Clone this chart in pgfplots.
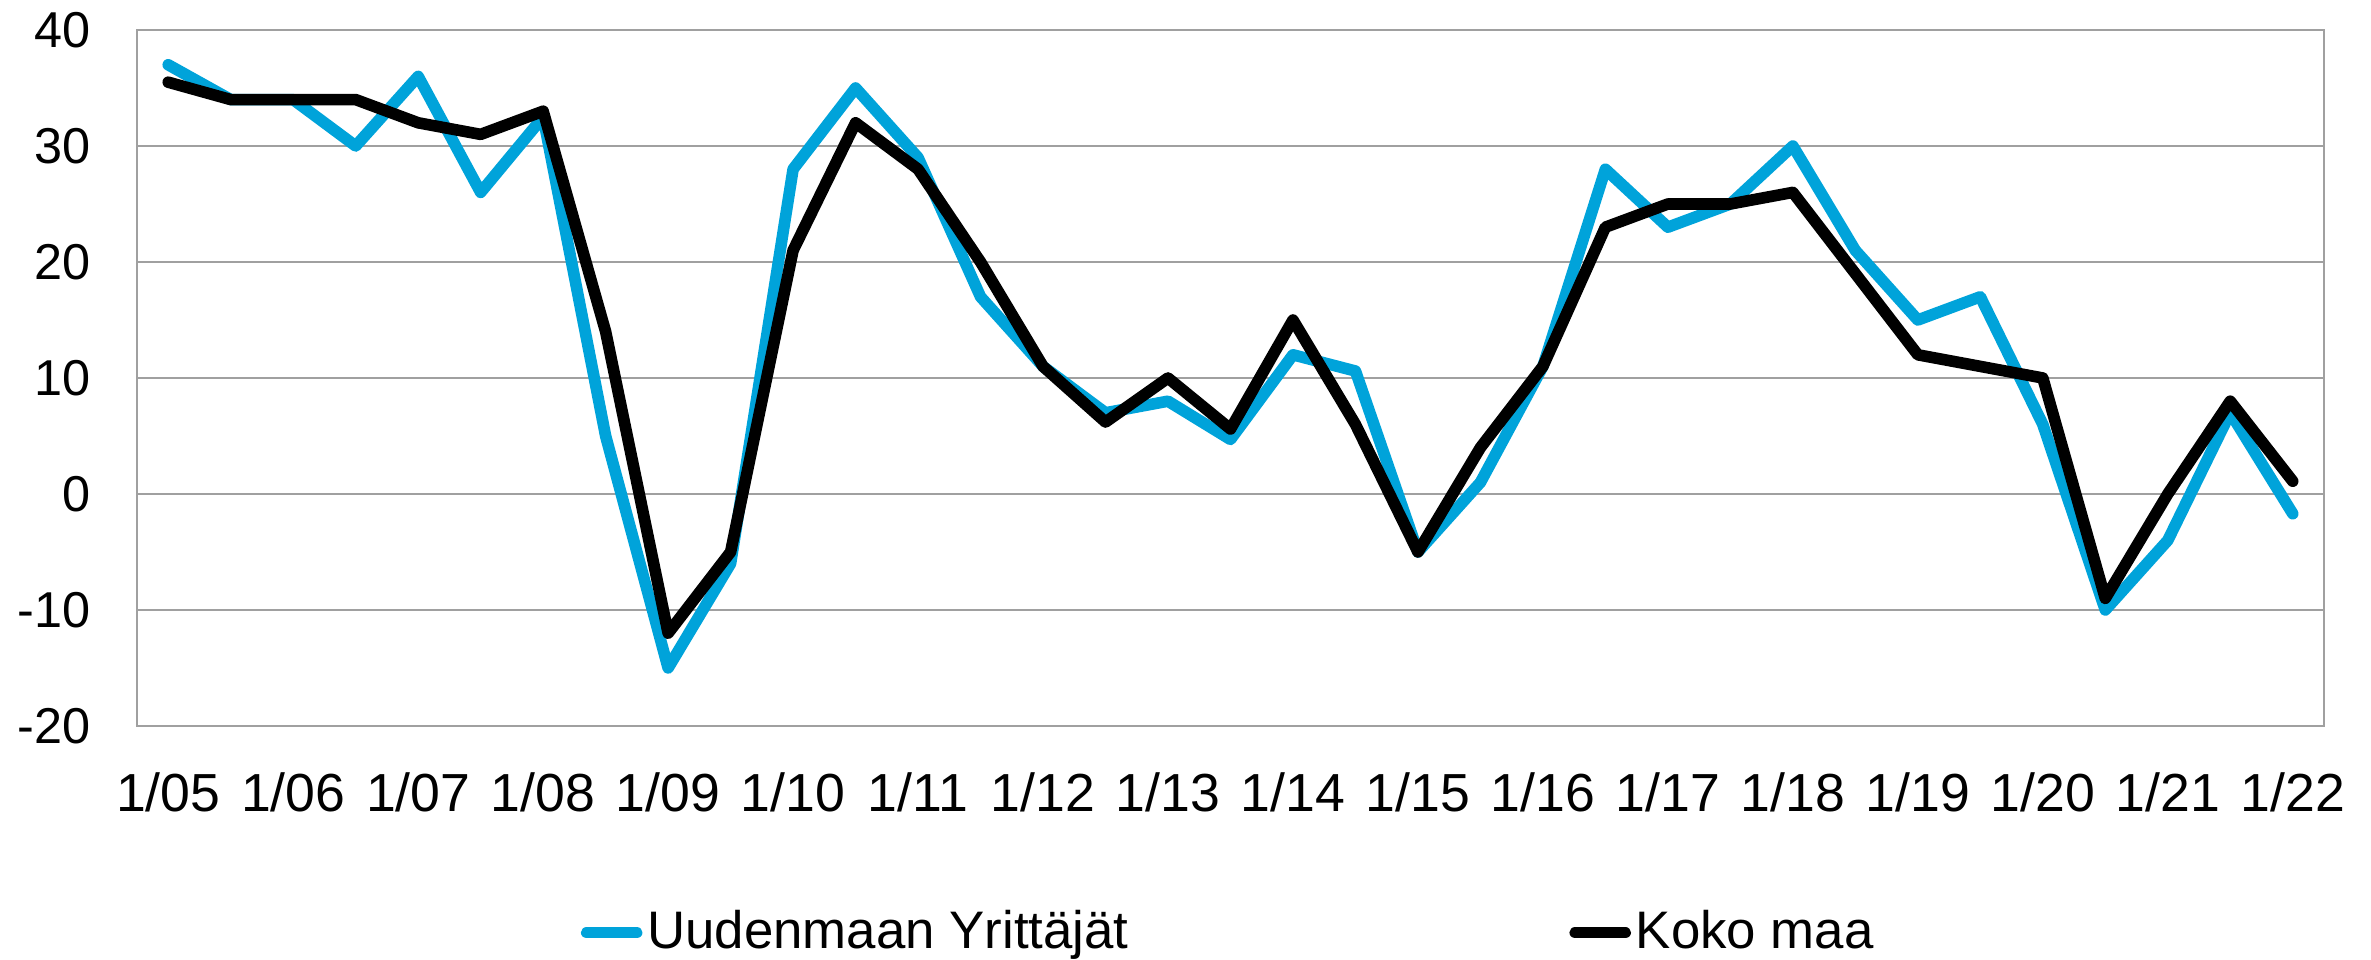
\documentclass[border=0pt]{standalone}
\usepackage{fontspec}
\setmainfont{Liberation Sans}
\usepackage{pgfplots}
\usepackage{pgfplotstable}
\pgfplotsset{compat=1.18}

\definecolor{uusiblue}{RGB}{0,163,218}
\definecolor{gridgray}{RGB}{160,160,160}

% half-year points, 0 = 1/05 ... 34 = 1/22
\pgfplotstableread{
i  uusimaa  koko
0   37      35.5
1   34      34
2   34      34
3   30      34
4   36      32
5   26      31
6   32.5    33
7   5       14
8   -15     -12
9   -6      -5
10  28      21
11  35      32
12  29      28
13  17      20
14  11      11
15  7       6.2
16  8       10
17  4.7     5.6
18  12      15
19  10.6    6
20  -5      -5
21  1       4
22  11      11
23  28      23
24  23      25
25  25      25
26  30      26
27  21      19
28  15      12
29  17      11
30  6       10
31  -10     -9
32  -4      0
33  7       8
34  -1.7    1.1
}\datatable

\begin{document}
\begin{tikzpicture}
\begin{axis}[
  at={(0,0)}, anchor=south west,
  scale only axis,
  width=546.75pt, height=174pt,
  xmin=-0.5, xmax=34.5,
  ymin=-20, ymax=40,
  xtick={0,2,...,34},
  xticklabels={1/05,1/06,1/07,1/08,1/09,1/10,1/11,1/12,1/13,1/14,1/15,1/16,1/17,1/18,1/19,1/20,1/21,1/22},
  ytick={-20,-10,...,40},
  yticklabels={-20,-10,0,10,20,30,40},
  major tick length=0pt,
  ymajorgrids,
  grid style={gridgray, line width=0.45pt},
  axis line style={gridgray, line width=0.45pt},
  xticklabel style={font=\fontsize{13.4}{15}\selectfont, anchor=base, inner sep=0pt, yshift=-21.5pt},
  yticklabel style={font=\fontsize{12.6}{14}\selectfont, anchor=east, inner sep=0pt, xshift=-11.5pt},
  legend columns=2,
  legend cell align=left,
  legend style={at={(axis description cs:0.2026,-0.297)}, anchor=west,
    draw=none, fill=none, inner sep=0pt,
    font=\fontsize{13.2}{15}\selectfont,
    nodes={inner sep=1.2pt},
    /tikz/every even column/.append style={column sep=109pt}},
  legend image code/.code={\draw[#1, line cap=round] (0pt,0pt) -- (12.5pt,0pt);},
]
\addplot[uusiblue, line width=2.9pt, line join=round, line cap=round] table[x=i, y=uusimaa] {\datatable};
\addlegendentry{Uudenmaan Yrittäjät}
\addplot[black, line width=2.9pt, line join=round, line cap=round] table[x=i, y=koko] {\datatable};
\addlegendentry{Koko maa}
\end{axis}
\pgfresetboundingbox
\path (-34.25pt,-58.5pt) rectangle (558.5pt,181.5pt);
\end{tikzpicture}
\end{document}
